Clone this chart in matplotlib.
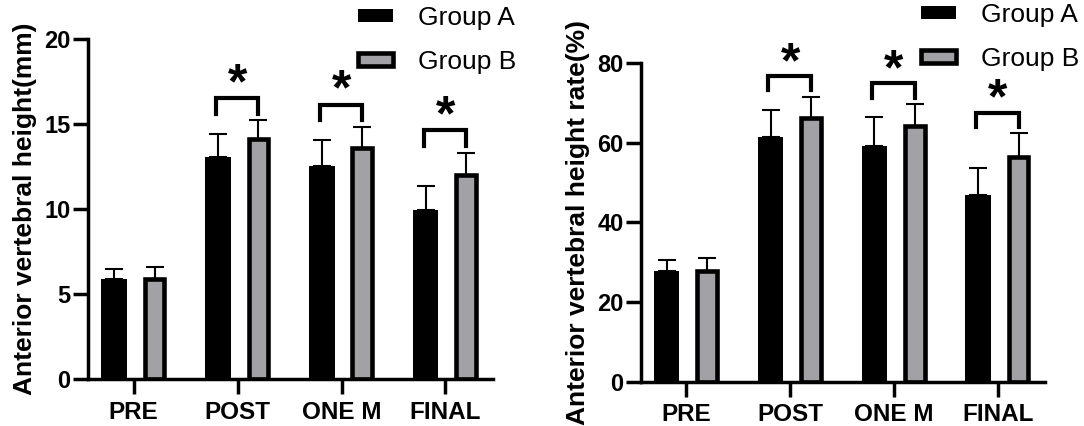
import numpy as np
import matplotlib.pyplot as plt

plt.rcParams['font.family'] = ['Liberation Sans', 'DejaVu Sans']

labels = ['PRE', 'POST', 'ONE M', 'FINAL']

# anterior vertebral height (mm)
height_a = [5.88, 13.04, 12.55, 9.96]
height_a_sd = [0.59, 1.39, 1.49, 1.41]
height_b = [5.92, 14.1, 13.62, 12.0]
height_b_sd = [0.69, 1.12, 1.22, 1.33]

# anterior vertebral height rate (%)
rate_a = [27.8, 61.4, 59.1, 46.8]
rate_a_sd = [2.7, 6.9, 7.3, 6.8]
rate_b = [27.9, 66.3, 64.2, 56.4]
rate_b_sd = [3.3, 5.3, 5.6, 6.0]

# groups marked with *
signif = [1, 2, 3]

gray = '#a2a2a6'
x = np.arange(len(labels))


def panel(ax, a, a_sd, b, b_sd, ymax, step, ylabel):
    ax.bar(x - 0.19, a, width=0.245, color='black', zorder=2, label='Group A')
    ax.bar(x + 0.2, b, width=0.19, color=gray, edgecolor='black',
           linewidth=3.3, zorder=2, label='Group B')
    ax.errorbar(x - 0.19, a, yerr=[np.zeros(len(a)), a_sd], fmt='none',
                ecolor='black', elinewidth=1.5, capsize=6.5, capthick=1.5, zorder=1)
    ax.errorbar(x + 0.2, b, yerr=[np.zeros(len(b)), b_sd], fmt='none',
                ecolor='black', elinewidth=1.5, capsize=6.5, capthick=1.5, zorder=1)

    tops = np.maximum(np.array(a) + a_sd, np.array(b) + b_sd)
    for i in signif:
        y0 = tops[i] + 0.02 * ymax
        y1 = y0 + 0.045 * ymax
        ax.plot([x[i] - 0.21, x[i] - 0.21, x[i] + 0.2, x[i] + 0.2],
                [y0, y1, y1, y0], color='black', lw=3, solid_joinstyle='miter',
                clip_on=False)
        ax.text(x[i], y1 + 0.038 * ymax, '*', ha='center', va='center',
                fontsize=36, fontweight='bold')

    ax.set_xlim(-0.44, 3.455)
    ax.set_ylim(0, ymax)
    ax.set_yticks(np.arange(0, ymax + 1, step))
    ax.set_xticks(x)
    ax.set_xticklabels(labels, fontsize=17.5, fontweight='bold')
    for t in ax.get_yticklabels():
        t.set_fontsize(17)
        t.set_fontweight('bold')
    ax.set_ylabel(ylabel, fontsize=19, fontweight='bold', labelpad=5)
    for s in ['top', 'right']:
        ax.spines[s].set_visible(False)
    for s in ['left', 'bottom']:
        ax.spines[s].set_linewidth(2.5)
    ax.tick_params(axis='both', length=10.5, width=2.5)
    ax.tick_params(axis='y', pad=2)
    ax.tick_params(axis='x', pad=5)


fig = plt.figure(figsize=(10.84, 4.26), dpi=100)
ax1 = fig.add_axes([0.0812, 0.1096, 0.3733, 0.7988])
ax2 = fig.add_axes([0.5911, 0.1040, 0.3730, 0.7474])

panel(ax1, height_a, height_a_sd, height_b, height_b_sd, 20, 5,
      'Anterior vertebral height(mm)')
panel(ax2, rate_a, rate_a_sd, rate_b, rate_b_sd, 80, 20,
      'Anterior vertebral height rate(%)')

for ax, anchor in [(ax1, (0.330, 0.986)), (ax2, (0.850, 0.993))]:
    fig.legend(*ax.get_legend_handles_labels(), loc='upper left',
               bbox_to_anchor=anchor, bbox_transform=fig.transFigure,
               frameon=False, fontsize=19, handlelength=1.33, handleheight=0.42,
               handletextpad=0.94, labelspacing=0.76, borderpad=0,
               borderaxespad=0)

fig.savefig('out.png', dpi=100)
